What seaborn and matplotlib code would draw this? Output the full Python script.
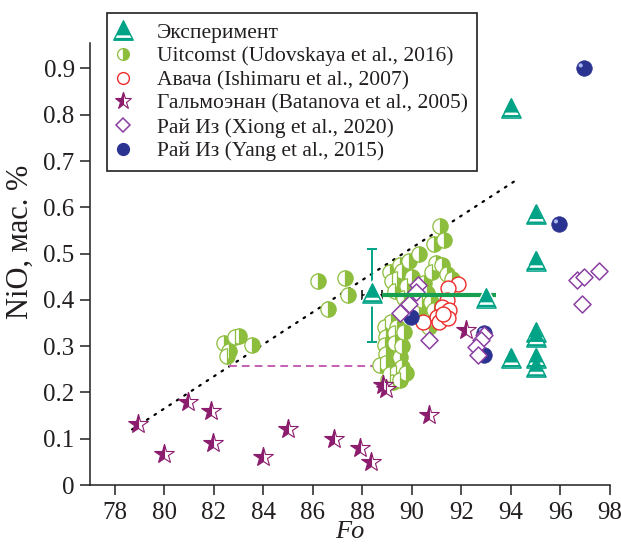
import numpy as np
import pandas as pd
import matplotlib
matplotlib.use("Agg")
import matplotlib.pyplot as plt
import seaborn as sns
from matplotlib.path import Path
from matplotlib.lines import Line2D
from matplotlib.legend_handler import HandlerTuple
from matplotlib.transforms import ScaledTranslation

# ---------------- data: Fo (mol.%) vs NiO (wt.%) ----------------
exp_fo = [94.0, 95.0, 95.0, 93.0, 95.0, 95.0, 94.0, 95.0, 95.0, 88.4]
exp_nio = [0.815, 0.585, 0.485, 0.405, 0.33, 0.32, 0.275, 0.275, 0.255, 0.415]

# spread for the Fo 88.4 experiment
err_fo = 88.4
err_nio = 0.41
err_nio_lo, err_nio_hi = 0.31, 0.51
err_fo_lo, err_fo_hi = 88.0, 88.8
# range of the thick green bar
bar_fo = [88.8, 93.4]
bar_nio = [0.41, 0.41]

uit_fo = [86.2, 87.3, 87.4, 86.6, 83.0, 82.85, 83.55, 82.4, 82.6, 82.55,
          91.15, 91.3, 90.9, 90.3, 89.9, 89.5, 89.6, 90.97, 91.2, 90.8,
          91.4, 91.6, 89.4, 90.5, 90.0, 89.8, 90.6, 90.77, 90.9, 90.97,
          90.7, 90.3, 90.4, 90.2, 89.7, 89.8, 90.0, 89.1, 89.2, 89.3,
          89.15, 89.4, 88.9, 88.95, 89.3, 88.9, 89.3, 88.95, 89.5, 88.95,
          89.6, 89.37, 89.77, 89.23, 89.03, 88.7, 89.6, 89.7, 89.5, 89.1]
uit_nio = [0.44, 0.448, 0.41, 0.38, 0.322, 0.32, 0.302, 0.306, 0.29, 0.279,
           0.56, 0.53, 0.52, 0.50, 0.485, 0.475, 0.462, 0.48, 0.475, 0.46,
           0.455, 0.445, 0.445, 0.436, 0.45, 0.43, 0.415, 0.396, 0.378, 0.356,
           0.342, 0.378, 0.40, 0.42, 0.405, 0.385, 0.37, 0.46, 0.44, 0.42,
           0.353, 0.342, 0.342, 0.32, 0.328, 0.302, 0.307, 0.284, 0.277, 0.263,
           0.256, 0.242, 0.241, 0.223, 0.227, 0.26, 0.30, 0.33, 0.227, 0.24]

ava_fo = [91.85, 91.45, 91.4, 91.2, 91.5, 91.0, 90.45, 91.1, 91.45, 91.25]
ava_nio = [0.435, 0.425, 0.40, 0.385, 0.378, 0.364, 0.353, 0.352, 0.36, 0.37]

bat_fo = [78.93, 79.97, 80.94, 81.88, 81.96, 83.97, 85.0, 86.84, 87.92,
          88.33, 88.85, 88.96, 90.7, 92.18]
bat_nio = [0.131, 0.068, 0.18, 0.16, 0.09, 0.06, 0.12, 0.099, 0.079,
           0.049, 0.216, 0.207, 0.151, 0.335]

xio_fo = [90.23, 90.17, 89.9, 89.5, 90.7, 92.92, 92.78, 92.58, 92.65,
          96.67, 96.94, 97.55, 96.87]
xio_nio = [0.432, 0.417, 0.392, 0.371, 0.313, 0.324, 0.313, 0.299, 0.281,
           0.443, 0.45, 0.463, 0.392]

yang_fo = [96.94, 95.94, 89.97, 92.92, 92.92]
yang_nio = [0.90, 0.563, 0.363, 0.328, 0.28]

# trend guide and the projection line
guide_fo = [78.7, 94.25]
guide_nio = [0.12, 0.66]
proj_fo = [82.6, 89.3]
proj_nio = [0.257, 0.257]

labels = ["Эксперимент",
          "Uitcomst (Udovskaya et al., 2016)",
          "Авача (Ishimaru et al., 2007)",
          "Гальмоэнан (Batanova et al., 2005)",
          "Рай Из (Xiong et al., 2020)",
          "Рай Из (Yang et al., 2015)"]
xticks = list(range(78, 99, 2))
yticks = [0, 0.1, 0.2, 0.3, 0.4, 0.5, 0.6, 0.7, 0.8, 0.9]
ytick_labels = ["0", "0.1", "0.2", "0.3", "0.4", "0.5", "0.6", "0.7", "0.8", "0.9"]

# ---------------- styling ----------------
TEAL = "#00a386"
BAR = "#17a050"
OLIVE = "#8cbd3c"
RED = "#ee2b2b"
PLUM = "#8c1c6e"
VIOLET = "#8a40a2"
NAVY = "#2b3391"
PINK = "#c45fb2"
INK = "#231f20"

sns.set_theme(style="ticks")
plt.rcParams["font.family"] = ["Liberation Serif", "DejaVu Serif"]
plt.rcParams["mathtext.fontset"] = "stix"

# triangle with a white stripe near its base
tri_outline = Path([(0, 1), (-1, -1), (1, -1), (0, 1)],
                   [Path.MOVETO, Path.LINETO, Path.LINETO, Path.CLOSEPOLY])
tri_fill = Path([(0, 1), (-0.75, -0.5), (0.75, -0.5), (0, 1),
                 (-0.88, -0.76), (-1, -1), (1, -1), (0.88, -0.76), (-0.88, -0.76)],
                [Path.MOVETO, Path.LINETO, Path.LINETO, Path.CLOSEPOLY,
                 Path.MOVETO, Path.LINETO, Path.LINETO, Path.LINETO, Path.CLOSEPOLY])

fig = plt.figure(figsize=(6.21, 5.49), dpi=100)
ax = fig.add_axes([90 / 621, 64 / 549, 520 / 621, 442 / 549])

# guide lines
ax.plot(guide_fo, guide_nio, color="black", lw=1.6, ls=(0, (0.8, 3.2)),
        zorder=1, dash_capstyle="round")
ax.plot(proj_fo, proj_nio, color=PINK, lw=1.4, ls=(0, (4, 2.6)), zorder=1)
ax.plot(proj_fo[-1:], proj_nio[-1:], color=PINK, ls="", marker=">", ms=4,
        zorder=1)

# Uitcomst: half-filled circles
sns.lineplot(x=uit_fo, y=uit_nio, estimator=None, sort=False, errorbar=None,
             linestyle="", marker="o", markersize=11, fillstyle="right",
             color=OLIVE, markerfacecoloralt="white", markeredgecolor=OLIVE,
             markeredgewidth=0.9, ax=ax, zorder=3)

# Avacha: open red circles
sns.scatterplot(x=ava_fo, y=ava_nio, s=115, color="white", edgecolor=RED,
                linewidth=1.0, ax=ax, zorder=4)

# Rai-Iz (Yang): dark blue spheres with a highlight
sns.scatterplot(x=yang_fo, y=yang_nio, s=125, color=NAVY, edgecolor=NAVY,
                linewidth=0.5, ax=ax, zorder=4)
shine = ax.transData + ScaledTranslation(-2.2 / 72, 2.2 / 72, fig.dpi_scale_trans)
sns.scatterplot(x=yang_fo, y=yang_nio, s=9, color="#a9b6f0", edgecolor="none",
                linewidth=0, ax=ax, zorder=4.1, transform=shine)

# Rai-Iz (Xiong): open diamonds
sns.scatterplot(x=xio_fo, y=xio_nio, s=75, marker="D", color="white",
                edgecolor=VIOLET, linewidth=1.1, ax=ax, zorder=4.2)

# Galmoenan: half-filled stars
sns.lineplot(x=bat_fo, y=bat_nio, estimator=None, sort=False, errorbar=None,
             linestyle="", marker="*", markersize=15, fillstyle="left",
             color=PLUM, markerfacecoloralt="white", markeredgecolor=PLUM,
             markeredgewidth=0.8, ax=ax, zorder=4.3)

# spread of the Fo 88.4 experiment and the thick range bar
ax.errorbar([err_fo], [err_nio], yerr=[[err_nio - err_nio_lo], [err_nio_hi - err_nio]],
            fmt="none", ecolor=TEAL, elinewidth=1.4, capsize=3.8, capthick=1.4,
            zorder=5)
ax.errorbar([err_fo], [err_nio], xerr=[[err_fo - err_fo_lo], [err_fo_hi - err_fo]],
            fmt="none", ecolor="black", elinewidth=1.1, capsize=3.5, capthick=1.1,
            zorder=5)
ax.plot(bar_fo, bar_nio, color=BAR, lw=3.0, solid_capstyle="butt", zorder=5)

# experiments: striped triangles with a white halo
sns.scatterplot(x=exp_fo, y=exp_nio, s=300, marker=tri_outline, color="white",
                edgecolor="white", linewidth=1.5, ax=ax, zorder=6)
sns.scatterplot(x=exp_fo, y=exp_nio, s=190, marker=tri_outline, color="white",
                edgecolor=TEAL, linewidth=1.1, ax=ax, zorder=6.1)
sns.scatterplot(x=exp_fo, y=exp_nio, s=190, marker=tri_fill, color=TEAL,
                edgecolor="none", linewidth=0, ax=ax, zorder=6.2)

# ---------------- axes ----------------
ax.set_xlim(77, 98)
ax.set_ylim(0, 0.955)
ax.set_xticks(xticks)
ax.set_xticklabels([str(t) for t in xticks])
ax.set_yticks(yticks)
ax.set_yticklabels(ytick_labels)
sns.despine(ax=ax)
for side in ("left", "bottom"):
    ax.spines[side].set_color(INK)
    ax.spines[side].set_linewidth(1.1)
ax.tick_params(axis="both", direction="out", length=7, width=1.1, color=INK,
               labelsize=18, labelcolor=INK)
ax.tick_params(axis="x", pad=5)
ax.tick_params(axis="y", pad=4)
ax.set_xlabel("Fo", fontsize=19, style="italic", color=INK, labelpad=-2)
ax.set_ylabel("NiO, мас. %", fontsize=22, color=INK)
ax.yaxis.set_label_coords(-0.106, 0.55)

# ---------------- legend ----------------
handles = [
    (Line2D([], [], ls="", marker=tri_outline, ms=14, mfc="white", mec=TEAL, mew=1.0),
     Line2D([], [], ls="", marker=tri_fill, ms=14, mfc=TEAL, mec="none", mew=0)),
    Line2D([], [], ls="", marker="o", ms=8.5, fillstyle="right", color=OLIVE,
           mfc=OLIVE, markerfacecoloralt="white", mec=OLIVE, mew=0.9),
    Line2D([], [], ls="", marker="o", ms=8.5, mfc="white", mec=RED, mew=1.0),
    Line2D([], [], ls="", marker="*", ms=12.5, fillstyle="left", color=PLUM,
           mfc=PLUM, markerfacecoloralt="white", mec=PLUM, mew=0.8),
    Line2D([], [], ls="", marker="D", ms=7.5, mfc="white", mec=VIOLET, mew=1.1),
    Line2D([], [], ls="", marker="o", ms=8.5, mfc=NAVY, mec=NAVY),
]
leg = ax.legend(handles, labels, loc="upper left",
                bbox_to_anchor=(107 / 621, 1 - 13 / 549),
                bbox_transform=fig.transFigure, borderaxespad=0,
                fontsize=15.5, frameon=True, fancybox=False, shadow=False,
                framealpha=1, edgecolor=INK, labelspacing=0.17,
                handlelength=0.55, handletextpad=1.3, borderpad=0.45,
                handler_map={tuple: HandlerTuple(ndivide=1, pad=0)})
leg.get_frame().set_linewidth(1.2)
for t in leg.get_texts():
    t.set_color(INK)
leg.set_zorder(10)

fig.savefig("out.png", dpi=100)
